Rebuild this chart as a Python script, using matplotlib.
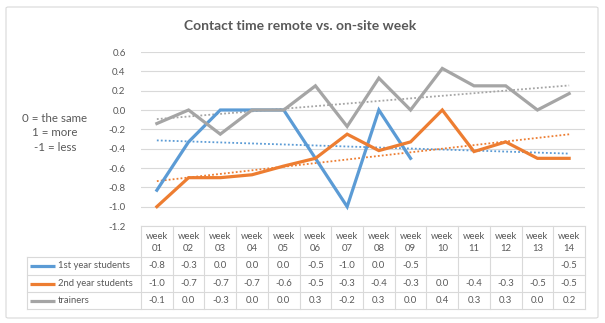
import numpy as np
import matplotlib
matplotlib.use("Agg")
import matplotlib.pyplot as plt
import matplotlib.transforms as mtransforms
from matplotlib.patches import FancyBboxPatch
from matplotlib.lines import Line2D
from decimal import Decimal, ROUND_HALF_UP

plt.rcParams['font.family'] = ['Lato', 'DejaVu Sans']

weeks = ["01", "02", "03", "04", "05", "06", "07", "08", "09", "10", "11", "12", "13", "14"]
first_year = [-0.83, -0.33, 0.0, 0.0, 0.0, -0.5, -1.0, 0.0, -0.5, np.nan, np.nan, np.nan, np.nan, -0.5]
second_year = [-1.0, -0.7, -0.7, -0.67, -0.58, -0.5, -0.25, -0.42, -0.33, 0.0, -0.43, -0.33, -0.5, -0.5]
trainers = [-0.14, 0.0, -0.25, 0.0, 0.0, 0.25, -0.17, 0.33, 0.0, 0.43, 0.25, 0.25, 0.0, 0.17]
y_ticks = [-1.2, -1.0, -0.8, -0.6, -0.4, -0.2, 0.0, 0.2, 0.4, 0.6]

series_names = ["1st year students", "2nd year students", "trainers"]
series_values = [first_year, second_year, trainers]
series_colors = ["#5B9BD5", "#ED7D31", "#A5A5A5"]

TXT = "#595959"
GRID = "#D9D9D9"


def fmt1(v):
    # one decimal, halves rounded away from zero
    d = Decimal(str(v)).quantize(Decimal("0.1"), rounding=ROUND_HALF_UP)
    if d == 0:
        d = Decimal("0.0")
    return f"{d:.1f}"


W, H = 605, 323
fig = plt.figure(figsize=(W / 100, H / 100), dpi=100)

# outer chart border
border = FancyBboxPatch((6 / W, 5 / H), 592 / W, 311 / H, boxstyle="round,pad=0,rounding_size=0.004",
                        transform=fig.transFigure, fill=False, edgecolor=GRID, linewidth=0.8)
fig.patches.append(border)

left, right, top, bottom = 141, 585, 52, 226
ax = fig.add_axes([left / W, 1 - bottom / H, (right - left) / W, (bottom - top) / H])

x = np.arange(1, len(weeks) + 1)
for vals, color in zip(series_values, series_colors):
    y = np.array(vals, dtype=float)
    ax.plot(x, y, color=color, linewidth=2.3, solid_joinstyle="miter", zorder=3)
    ok = ~np.isnan(y)
    k, b = np.polyfit(x[ok], y[ok], 1)
    xs = np.array([x[ok].min(), x[ok].max()])
    ax.plot(xs, k * xs + b, color=color, linewidth=1.3, linestyle=(0, (1, 1.2)), zorder=2)

ax.set_xlim(0.5, len(weeks) + 0.5)
ax.set_ylim(-1.2, 0.6)
ax.set_yticks(y_ticks)
ax.set_yticklabels([fmt1(v) for v in y_ticks])
ax.set_xticks([])
ax.yaxis.grid(True, color=GRID, linewidth=0.8)
ax.set_axisbelow(True)
for s in ax.spines.values():
    s.set_visible(False)
ax.tick_params(axis="y", length=0, pad=11, labelsize=7, labelcolor=TXT)

ax.set_title("Contact time remote vs. on-site week", fontsize=10, fontweight="bold",
             color=TXT, x=(300 - left) / (right - left), pad=16)

fig.text(55 / W, 1 - 133 / H, "0 = the same\n1 = more\n-1 = less", ha="center", va="center",
         fontsize=8.3, color=TXT, linespacing=1.4)

# data table under the axis, columns aligned with the weeks
trans = mtransforms.blended_transform_factory(ax.transData, fig.transFigure)
ft = fig.transFigure


def fy(py):
    return 1 - py / H


row_lines = [257, 275, 292, 309]
edges = np.arange(0.5, len(weeks) + 1)
for e in edges:
    ax.add_line(Line2D([e, e], [fy(bottom), fy(row_lines[-1])], transform=trans, color=GRID,
                       linewidth=0.8, clip_on=False))
ax.add_line(Line2D([0.5, len(weeks) + 0.5], [fy(bottom)] * 2, transform=trans, color=GRID,
                   linewidth=0.8, clip_on=False))
for ry in row_lines:
    fig.add_artist(Line2D([27 / W, right / W], [fy(ry)] * 2, transform=ft, color=GRID, linewidth=0.8))
fig.add_artist(Line2D([27 / W, 27 / W], [fy(row_lines[0]), fy(row_lines[-1])], transform=ft,
                      color=GRID, linewidth=0.8))

for xi, wk in zip(x, weeks):
    ax.text(xi, fy((bottom + row_lines[0]) / 2 + 1), f"week\n{wk}", transform=trans, ha="center",
            va="center", fontsize=6.8, color=TXT, linespacing=1.35)

for r, (name, vals, color) in enumerate(zip(series_names, series_values, series_colors)):
    cy = fy((row_lines[r] + row_lines[r + 1]) / 2)
    fig.add_artist(Line2D([30 / W, 55 / W], [cy, cy], transform=ft, color=color, linewidth=2.3,
                          solid_capstyle="butt"))
    fig.text(57.5 / W, cy, name, ha="left", va="center", fontsize=6.8, color=TXT)
    for xi, v in zip(x, vals):
        if not np.isnan(v):
            ax.text(xi, cy, fmt1(v), transform=trans, ha="center", va="center",
                    fontsize=6.8, color=TXT)

fig.savefig("out.png", dpi=100)
